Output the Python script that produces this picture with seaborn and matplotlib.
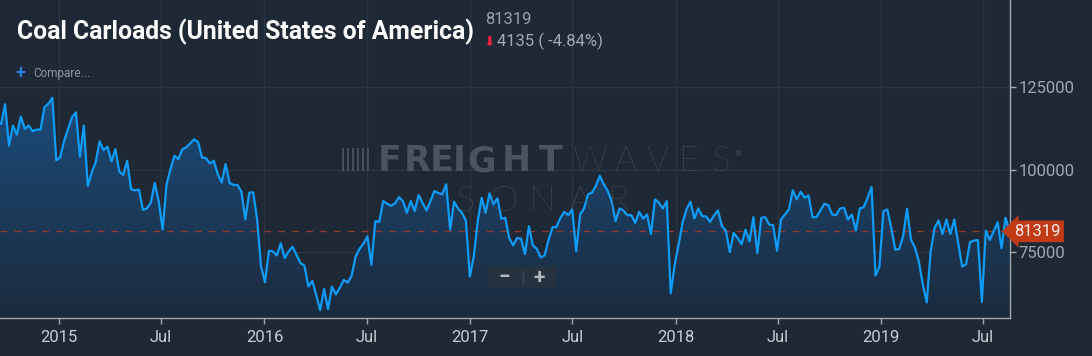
import numpy as np
import pandas as pd
import seaborn as sns
import matplotlib.pyplot as plt
import matplotlib.dates as mdates
import matplotlib.transforms as mtransforms
from matplotlib.colors import LinearSegmentedColormap
from matplotlib.patches import FancyBboxPatch, Rectangle
from matplotlib.ticker import FuncFormatter

W, H = 1092, 356

# weekly coal carloads (Sep 2014 - Aug 2019)
carloads = [
    113993, 113790, 119672, 107199, 113283, 110546, 116021, 112269, 113283, 111560,
    112067, 112067, 118860, 119874, 121700, 102839, 103650, 108720, 112269, 115818,
    117238, 103853, 113283, 95031, 99087, 102129, 108518, 105881, 106895, 102434,
    106185, 99392, 98378, 102636, 94017, 93713, 93916, 87832, 88238, 89961,
    95944, 90468, 81849, 95538, 100101, 104157, 103143, 106084, 106692, 107909,
    109126, 108315,
    103650, 103447, 101825, 102636, 98580, 96045, 101622, 95944, 95336, 95336,
    93308, 84891, 93003, 93105, 84891, 70695, 65930, 75461, 75258, 74042,
    77692, 73230, 75258, 76678, 74244, 71709, 71000, 64713, 66335, 62076,
    57513, 63902, 57818, 64611, 62279, 64307, 66639, 65828, 67958, 73737,
    76070, 77591, 79822, 71202, 84384, 84182, 90468, 89657, 89049, 89759,
    91685,
    90468, 86919, 90468, 87426, 92294, 89961, 87629, 90468, 93510, 92902,
    92496, 95538, 81849, 90266, 88238, 86919, 84587, 67653, 73737, 84384,
    91482, 86919, 92801, 89454, 91280, 85196, 85398, 79314, 77084, 79314,
    79112, 74447, 82863, 77084, 76070, 73433, 74042, 78807, 82559, 82661,
    85398, 87224, 86210, 87933, 75258, 86412, 88238, 92496, 93003, 95031,
    98073,
    95538, 93510, 90468, 84384, 88238, 87629, 86210, 86210, 83877, 87224,
    85196, 86412, 80531, 90975, 89961, 88238, 90468, 62583, 71202, 77286,
    83877, 87933, 90266, 85196, 88238, 85905, 85804, 84182, 86108, 87629,
    82863, 81545, 75056, 80835, 79314, 77489, 81849, 78300, 85601, 74752,
    85398, 85601, 83370, 83168, 75461, 84891, 86412, 87933, 93713, 90975,
    93308, 91482, 92192, 85601, 85601, 87629, 89657, 89252, 86412, 86210,
    88238, 88440, 84891, 86412, 81545, 88238, 88643, 91482, 94727, 67958,
    70695, 87426, 87933, 82356, 75765, 75968, 79822, 88136, 78807, 76475,
    72216, 65321, 59846, 75258, 82356, 84587, 80531, 84891, 80531, 84891,
    77793, 70695, 71405, 78097, 78503, 78706, 60048, 81545, 78706, 81342,
    84080, 76272, 85454, 81319,
]
week_end = pd.date_range(end='2019-08-17', periods=len(carloads), freq='7D')
y_ticks = [75000, 100000, 125000]
title = 'Coal Carloads (United States of America)'

df = pd.DataFrame({'week': week_end, 'carloads': carloads})
last = df['carloads'].iloc[-1]
change = last - df['carloads'].iloc[-2]
pct = change / df['carloads'].iloc[-2] * 100

bg = '#1e2935'
grid_c = '#2a3643'
axis_c = '#a3a8ae'

sns.set_theme(style='dark', rc={'axes.facecolor': bg, 'figure.facecolor': bg})
plt.rcParams['font.family'] = ['Roboto', 'DejaVu Sans']


def fx(x):
    return x / W


def fy(y):
    return 1 - y / H


fig = plt.figure(figsize=(W / 100, H / 100), dpi=100, facecolor=bg)
ax = fig.add_axes([0, 38 / H, 1010 / W, 318 / H])
ax.set_facecolor(bg)

ymin, ymax = 55150, 151200
xmin, xmax = pd.Timestamp('2014-09-18'), pd.Timestamp('2019-08-18')

# gradient area under the line
fill = ax.fill_between(df['week'], df['carloads'], ymin, color='none', lw=0)
cmap = LinearSegmentedColormap.from_list('sonar', ['#1c2b3d', '#1a5a96'])
grad = np.linspace(0, 1, 256).reshape(-1, 1)
im = ax.imshow(grad, extent=[mdates.date2num(xmin), mdates.date2num(xmax), ymin, ymax],
               origin='lower', aspect='auto', cmap=cmap, zorder=2)
im.set_clip_path(fill.get_paths()[0], transform=ax.transData)

sns.lineplot(data=df, x='week', y='carloads', ax=ax, color='#0f9cf8', lw=1.6, zorder=4)
ax.axhline(last, color='#8a3a30', lw=1, ls=(0, (5, 5)), zorder=3)

ax.set_xlim(xmin, xmax)
ax.set_ylim(ymin, ymax)
ax.set_xlabel('')
ax.set_ylabel('')

ax.xaxis.set_major_locator(mdates.MonthLocator(bymonth=[1, 7]))
ax.xaxis.set_major_formatter(FuncFormatter(
    lambda v, pos: mdates.num2date(v).strftime('%Y') if mdates.num2date(v).month == 1 else 'Jul'))
ax.set_yticks(y_ticks)
ax.yaxis.tick_right()
ax.grid(True, color=grid_c, lw=0.9)
ax.set_axisbelow(True)

for s in ['left', 'top']:
    ax.spines[s].set_visible(False)
for s in ['bottom', 'right']:
    ax.spines[s].set_color(axis_c)
    ax.spines[s].set_linewidth(1)

ax.tick_params(axis='x', bottom=True, direction='out', length=4, width=1, color=axis_c,
               labelcolor='#c9ccd0', labelsize=12, pad=5)
ax.tick_params(axis='y', right=True, left=False, direction='out', length=4, width=1, color=axis_c,
               labelcolor='#a2a7ad', labelsize=12, pad=2)

# last value tag
trans = mtransforms.blended_transform_factory(ax.transAxes, ax.transData)
ax.text(1.004, last, f'{last}', transform=trans, ha='left', va='center', color='#fbece6',
        fontsize=12, clip_on=False, zorder=10,
        bbox=dict(boxstyle='larrow,pad=0.2', fc='#c13a16', ec='none'))

# watermark
wm = '#4b545e'
wm_thin = '#525b65'
for bx in [342, 347, 352, 357, 362, 367]:
    fig.patches.append(Rectangle((fx(bx), fy(171)), 2.2 / W, 23 / H, transform=fig.transFigure,
                                 fc=wm, ec='none', alpha=0.9, zorder=1))
for ch, cx in zip('FREIGHT', [390, 417, 442, 459, 482, 516, 551]):
    fig.text(fx(cx), fy(171), ch, color=wm, fontsize=25, fontweight='heavy',
             family=['DejaVu Sans'], va='baseline', ha='center', zorder=1)
for ch, cx in zip('WAVES', [590, 625, 657, 689, 720]):
    fig.text(fx(cx), fy(171), ch, color=wm_thin, fontsize=25, fontweight='light',
             family=['Lato', 'Roboto'], va='baseline', ha='center', zorder=1)
fig.text(fx(738), fy(156), '®', color=wm, fontsize=5, va='baseline', ha='center')
for ch, cx in zip('SONAR', [466, 504, 542, 580, 618]):
    fig.text(fx(cx), fy(211), ch, color=wm_thin, fontsize=26, fontweight='light',
             family=['Lato', 'Roboto'], va='baseline', ha='center', zorder=1)

# header: fit the condensed-looking title into its width
t = fig.text(fx(17), fy(39.5), title, color='white', fontsize=22, fontweight='bold',
             family=['Roboto'], va='baseline', ha='left')
fig.canvas.draw()
tw = t.get_window_extent().width
t.set_fontsize(22 * 457 / tw)

fig.text(fx(485), fy(24.5), f'{last}', color='#9aa1a9', fontsize=12, va='baseline', ha='left')
fig.text(fx(484), fy(46), '\u2b07', color='#e8213c', fontsize=10, va='baseline', ha='left',
         family=['DejaVu Sans'])
fig.text(fx(497), fy(46), f'{abs(change)} ( {pct:.2f}%)', color='#a3a9b0', fontsize=12,
         va='baseline', ha='left')
fig.text(fx(16), fy(78), '+', color='#2e7be0', fontsize=13, fontweight='bold', va='baseline', ha='left')
fig.text(fx(33), fy(77), 'Compare...', color='#8e959d', fontsize=8.5, va='baseline', ha='left')

# zoom buttons
fig.patches.append(FancyBboxPatch((fx(488), fy(288)), 68 / W, 22 / H,
                                  boxstyle='round,pad=0,rounding_size=0.004',
                                  transform=fig.transFigure, fc='#26323f', ec='none', zorder=5))
fig.lines.append(plt.Line2D([fx(522.5), fx(522.5)], [fy(271), fy(284)], transform=fig.transFigure,
                            color='#3b4754', lw=1, zorder=6))
fig.text(fx(504), fy(277.5), '\u2212', color='#b5babf', fontsize=15, fontweight='bold',
         va='center', ha='center', zorder=7)
fig.text(fx(539), fy(277.5), '+', color='#b5babf', fontsize=15, fontweight='bold',
         va='center', ha='center', zorder=7)

fig.savefig('out.png', dpi=100, facecolor=bg)
